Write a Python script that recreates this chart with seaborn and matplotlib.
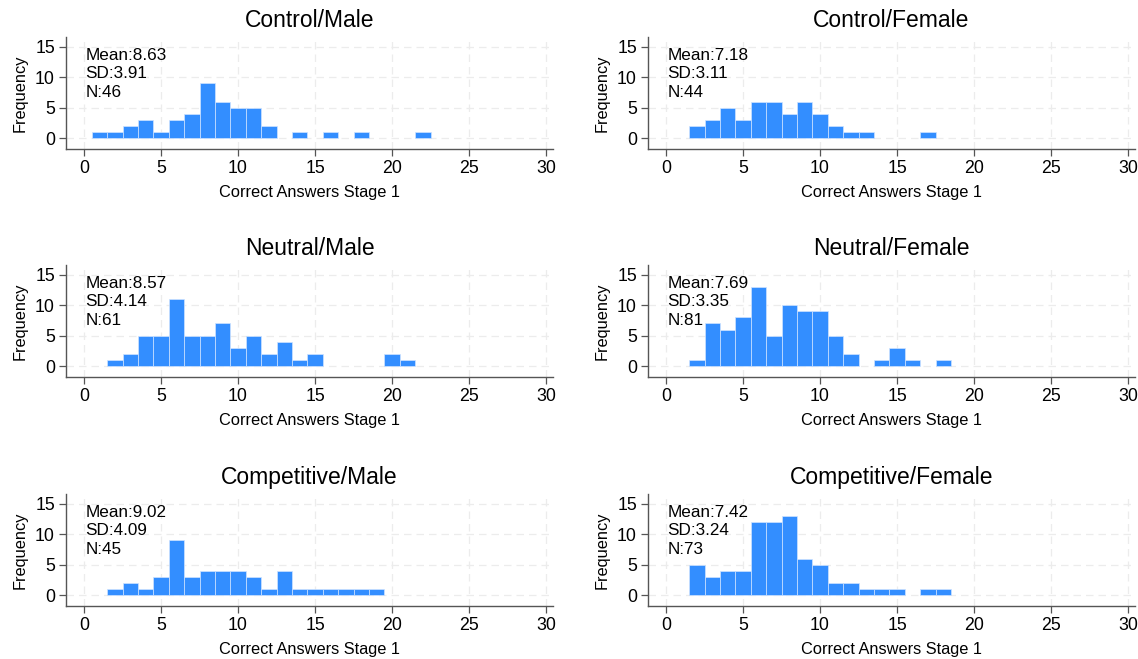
"""Histograms of correct answers in stage 1 by treatment and gender."""

import numpy as np
import pandas as pd
import matplotlib.pyplot as plt
import seaborn as sns

sns.set_style('white', rc={'text.color': 'black', 'axes.labelcolor': 'black',
                           'xtick.color': 'black', 'ytick.color': 'black'})
plt.rcParams['font.family'] = ['Liberation Sans', 'DejaVu Sans']

# panel order: row by row, male left / female right
titles = ['Control/Male', 'Control/Female',
          'Neutral/Male', 'Neutral/Female',
          'Competitive/Male', 'Competitive/Female']

ctrl_m_x = [1, 2, 3, 4, 5, 6, 7, 8, 9, 10, 11, 12, 14, 16, 18, 22]
ctrl_m_n = [1, 1, 2, 3, 1, 3, 4, 9, 6, 5, 5, 2, 1, 1, 1, 1]

ctrl_f_x = [2, 3, 4, 5, 6, 7, 8, 9, 10, 11, 12, 13, 17]
ctrl_f_n = [2, 3, 5, 3, 6, 6, 4, 6, 4, 2, 1, 1, 1]

neut_m_x = [2, 3, 4, 5, 6, 7, 8, 9, 10, 11, 12, 13, 14, 15, 20, 21]
neut_m_n = [1, 2, 5, 5, 11, 5, 5, 7, 3, 5, 2, 4, 1, 2, 2, 1]

neut_f_x = [2, 3, 4, 5, 6, 7, 8, 9, 10, 11, 12, 14, 15, 16, 18]
neut_f_n = [1, 7, 6, 8, 13, 5, 10, 9, 9, 5, 2, 1, 3, 1, 1]

comp_m_x = [2, 3, 4, 5, 6, 7, 8, 9, 10, 11, 12, 13, 14, 15, 16, 17, 18, 19]
comp_m_n = [1, 2, 1, 3, 9, 3, 4, 4, 4, 3, 1, 4, 1, 1, 1, 1, 1, 1]

comp_f_x = [2, 3, 4, 5, 6, 7, 8, 9, 10, 11, 12, 13, 14, 15, 17, 18]
comp_f_n = [5, 3, 4, 4, 12, 12, 13, 6, 5, 2, 2, 1, 1, 1, 1, 1]

stats = ['Mean:8.63\nSD:3.91\nN:46', 'Mean:7.18\nSD:3.11\nN:44',
         'Mean:8.57\nSD:4.14\nN:61', 'Mean:7.69\nSD:3.35\nN:81',
         'Mean:9.02\nSD:4.09\nN:45', 'Mean:7.42\nSD:3.24\nN:73']

panels = [(ctrl_m_x, ctrl_m_n), (ctrl_f_x, ctrl_f_n),
          (neut_m_x, neut_m_n), (neut_f_x, neut_f_n),
          (comp_m_x, comp_m_n), (comp_f_x, comp_f_n)]

fig = plt.figure(figsize=(11.38, 6.59), dpi=100)
lefts = [66 / 1138, 648 / 1138]
bottoms = [1 - 149 / 659, 1 - 377 / 659, 1 - 606 / 659]
w, h = 487 / 1138, 112 / 659

for i, (xs, ns) in enumerate(panels):
    ax = fig.add_axes([lefts[i % 2], bottoms[i // 2], w, h])
    df = pd.DataFrame({'score': xs, 'count': ns})
    sns.histplot(data=df, x='score', weights='count', discrete=True, ax=ax,
                 color='#338eff', alpha=1, edgecolor='#cfe3ff', linewidth=0.5)
    # hide the empty bins seaborn fills in between values
    for p in ax.patches:
        if p.get_height() == 0:
            p.set_visible(False)
    ax.set_xlim(-1.17, 30.45)
    ax.set_ylim(-1.8, 16.6)
    ax.set_xticks(np.arange(0, 31, 5))
    ax.set_yticks([0, 5, 10, 15])
    ax.grid(True, color='#ececec', linestyle=(0, (6, 4)), linewidth=0.9)
    ax.set_axisbelow(True)
    for s in ['top', 'right']:
        ax.spines[s].set_visible(False)
    for s in ['left', 'bottom']:
        ax.spines[s].set_color('#555555')
        ax.spines[s].set_linewidth(1.0)
    ax.tick_params(axis='both', direction='out', length=5, width=0.9,
                   color='#555555', labelsize=12.8, pad=3,
                   bottom=True, left=True)
    ax.set_xlabel('Correct Answers Stage 1', fontsize=11.8, labelpad=6)
    ax.set_ylabel('Frequency', fontsize=11.8, labelpad=5)
    ax.set_title(titles[i], fontsize=16.5, pad=7)
    ax.text(0.04, 0.905, stats[i], transform=ax.transAxes, va='top',
            ha='left', fontsize=12.3, linespacing=1.3)

plt.savefig('out.png', dpi=100)
